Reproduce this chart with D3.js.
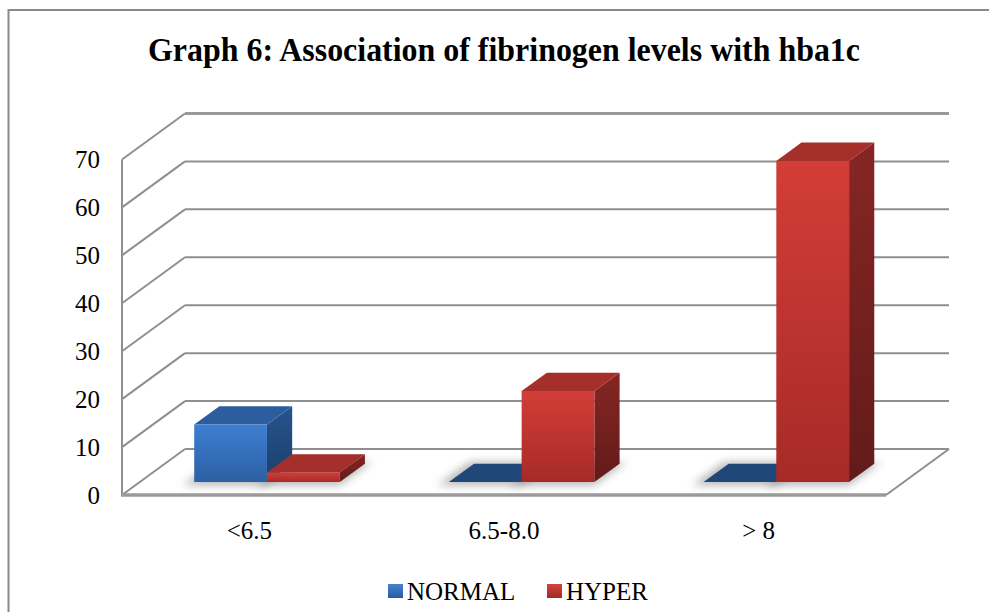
<!DOCTYPE html>
<html>
<head>
<meta charset="utf-8">
<script src="https://cdn.jsdelivr.net/npm/d3@7/dist/d3.min.js"></script>
<style>
  html, body { margin: 0; padding: 0; background: #fff; }
  svg { display: block; }
  text { font-family: "Liberation Serif", "Times New Roman", serif; fill: #000; }
</style>
</head>
<body>
<svg id="chart" width="989" height="612"></svg>
<script>
// Chart data
const categories = ["<6.5", "6.5-8.0", "> 8"];
const seriesNames = ["NORMAL", "HYPER"];
const normalValues = [12, 0, 0];
const hyperValues = [2, 19, 67];
const yTickValues = [0, 10, 20, 30, 40, 50, 60, 70];
const titleText = "Graph 6: Association of fibrinogen levels with hba1c";

const W = 989, H = 612;
const SERIF = "Liberation Serif, Times New Roman, serif";
const svg = d3.select("#chart");

// Oblique 3D projection: depth d in [0,1] moves a point up-right
const DEPTH_DX = 63, DEPTH_DY = -46;
const x = d3.scaleBand().domain(categories).range([122, 886]).paddingInner(0).paddingOuter(0);
const xs = d3.scaleBand().domain(seriesNames).range([0, x.bandwidth()]).paddingInner(0).paddingOuter(0.75);
const y = d3.scaleLinear().domain([0, 70]).range([495, 159.5]);
const proj = (px, v, d) => [px + d * DEPTH_DX, y(v) + d * DEPTH_DY];

const barFront = 0.28, barBack = 0.68;

// Gradients and shadow filter
const defs = svg.append("defs");
function vGrad(id, top, bottom) {
  const g = defs.append("linearGradient").attr("id", id).attr("x1", 0).attr("y1", 0).attr("x2", 0).attr("y2", 1);
  g.append("stop").attr("offset", "0%").attr("stop-color", top);
  g.append("stop").attr("offset", "100%").attr("stop-color", bottom);
}
vGrad("blueFront", "#3d7fd2", "#2d5fa3");
vGrad("blueSide", "#27538c", "#1c3f6e");
vGrad("redFront", "#d33d38", "#a72a27");
vGrad("redSide", "#862624", "#621b19");
vGrad("blueLegend", "#4483d3", "#2a5b9c");
vGrad("redLegend", "#d4433e", "#a22a27");
const palette = {
  NORMAL: { front: "url(#blueFront)", side: "url(#blueSide)", top: "#2c5d9e", flat: "#1f4777" },
  HYPER: { front: "url(#redFront)", side: "url(#redSide)", top: "#a52f2b", flat: "#8e2623" }
};
defs.append("filter").attr("id", "soft").attr("x", "-30%").attr("y", "-60%").attr("width", "160%").attr("height", "220%")
  .append("feGaussianBlur").attr("stdDeviation", 4);

// Outer frame
svg.append("path")
  .attr("d", `M8.5,${H} L8.5,10 L${W},10`)
  .attr("fill", "none").attr("stroke", "#8a8a8a").attr("stroke-width", 2);

// Title
svg.append("text")
  .attr("x", 148).attr("y", 61)
  .attr("font-family", SERIF)
  .attr("textLength", 712).attr("lengthAdjust", "spacingAndGlyphs")
  .style("font-size", "33px").style("font-weight", "bold")
  .text(titleText);

// Walls and floor
const grid = svg.append("g").attr("fill", "none").attr("stroke", "#8f8f8f");
const x0 = x.range()[0], x1 = x.range()[1];
yTickValues.forEach(v => {
  const a = proj(x0, v, 0), b = proj(x0, v, 1), c = proj(x1, v, 1);
  grid.append("line").attr("x1", a[0]).attr("y1", a[1]).attr("x2", b[0]).attr("y2", b[1]).attr("stroke-width", 2);
  grid.append("line").attr("x1", b[0]).attr("y1", b[1]).attr("x2", c[0]).attr("y2", c[1])
    .attr("stroke-width", v === 70 ? 3 : 2).attr("stroke", v === 70 ? "#9a9a9a" : "#8f8f8f");
});
// front-left axis edge
grid.append("line").attr("x1", x0).attr("y1", y(0)).attr("x2", x0).attr("y2", y(70)).attr("stroke-width", 2);
// floor front and right edges
const fr = proj(x1, 0, 0), br = proj(x1, 0, 1);
grid.append("line").attr("x1", x0 - 1).attr("y1", y(0)).attr("x2", fr[0]).attr("y2", fr[1])
  .attr("stroke-width", 3.5).attr("stroke", "#9a9a9a");
grid.append("line").attr("x1", fr[0]).attr("y1", fr[1]).attr("x2", br[0]).attr("y2", br[1]).attr("stroke-width", 2);

// Bars
const poly = pts => "M" + pts.map(p => p.join(",")).join("L") + "Z";
const bars = svg.append("g");
categories.forEach((cat, i) => {
  const vals = { NORMAL: normalValues[i], HYPER: hyperValues[i] };
  // soft shadows on the floor
  seriesNames.forEach(s => {
    const left = x(cat) + xs(s) - 7, right = x(cat) + xs(s) + xs.bandwidth() + 4;
    const pts = [proj(left, 0, barFront - 0.07), proj(right, 0, barFront - 0.07), proj(right, 0, barBack + 0.04), proj(left, 0, barBack + 0.04)];
    bars.append("path").attr("d", poly(pts)).attr("fill", "#707070").attr("opacity", 0.5).attr("filter", "url(#soft)");
  });
  seriesNames.forEach(s => {
    const v = vals[s], c = palette[s];
    const left = x(cat) + xs(s), right = left + xs.bandwidth();
    const g = bars.append("g");
    if (v <= 0) {
      g.append("path").attr("d", poly([proj(left, 0, barFront), proj(right, 0, barFront), proj(right, 0, barBack), proj(left, 0, barBack)]))
        .attr("fill", c.flat);
      return;
    }
    const fbl = proj(left, 0, barFront), fbr = proj(right, 0, barFront);
    const ftl = proj(left, v, barFront), ftr = proj(right, v, barFront);
    const btl = proj(left, v, barBack), btr = proj(right, v, barBack), bbr = proj(right, 0, barBack);
    g.append("path").attr("d", poly([fbr, ftr, btr, bbr])).attr("fill", c.side);
    g.append("path").attr("d", poly([ftl, ftr, btr, btl])).attr("fill", c.top);
    g.append("path").attr("d", poly([fbl, fbr, ftr, ftl])).attr("fill", c.front);
  });
});

// Value axis labels
const yAxis = d3.axisLeft(y).tickValues(yTickValues).tickSize(0).tickPadding(22).tickFormat(d3.format("d"));
const ya = svg.append("g").attr("transform", `translate(${x0},0)`).call(yAxis)
  .attr("font-family", SERIF).attr("font-size", 25);
ya.select(".domain").remove();
ya.selectAll("text").attr("font-family", SERIF).attr("fill", "#000");

// Category labels
const xAxis = d3.axisBottom(x).tickSize(0).tickPadding(26);
const xa = svg.append("g").attr("transform", `translate(0,${y(0)})`).call(xAxis)
  .attr("font-family", SERIF).attr("font-size", 25);
xa.select(".domain").remove();
xa.selectAll("text").attr("font-family", SERIF).attr("fill", "#000");

// Legend
const legend = svg.append("g").attr("font-family", SERIF);
const legendItems = [
  { name: seriesNames[0], fill: "url(#blueLegend)", x: 388 },
  { name: seriesNames[1], fill: "url(#redLegend)", x: 547 }
];
legendItems.forEach(it => {
  legend.append("rect").attr("x", it.x).attr("y", 584).attr("width", 15).attr("height", 14).attr("fill", it.fill);
  legend.append("text").attr("x", it.x + 19).attr("y", 600).attr("font-size", 25).text(it.name);
});
</script>
</body>
</html>
